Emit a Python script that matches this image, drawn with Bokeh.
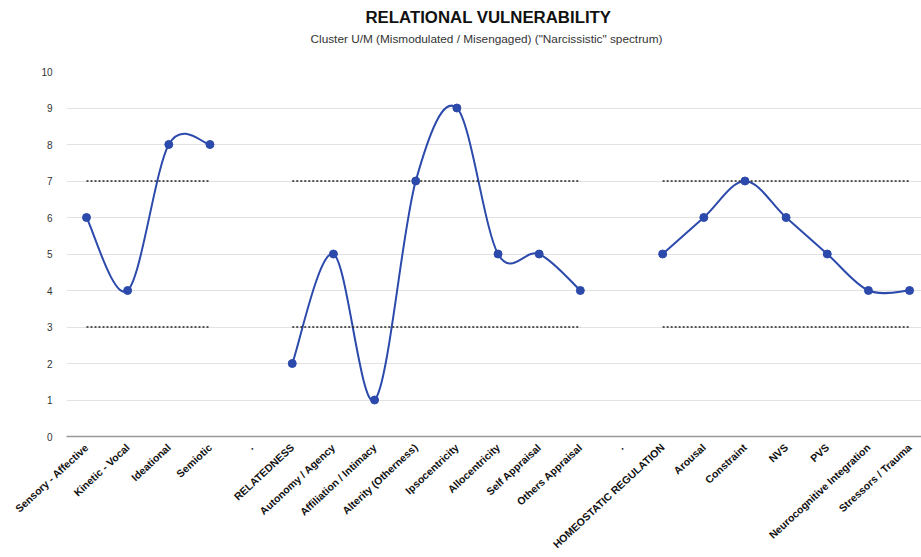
import numpy as np
from bokeh.plotting import figure
from bokeh.models import FixedTicker, Title, Range1d
from bokeh.embed import file_html
from bokeh.resources import INLINE

categories = ["Sensory - Affective", "Kinetic - Vocal", "Ideational", "Semiotic", ".",
              "RELATEDNESS", "Autonomy / Agency", "Affiliation / Intimacy", "Alterity (Otherness)",
              "Ipsocentricity", "Allocentricity", "Self Appraisal", "Others Appraisal", ".",
              "HOMEOSTATIC REGULATION", "Arousal", "Constraint", "NVS", "PVS",
              "Neurocognitive Integration", "Stressors / Trauma"]
values = [6, 4, 8, 8, None, 2, 5, 1, 7, 9, 5, 5, 4, None, 5, 6, 7, 6, 5, 4, 4]
upper_limit = [7, 7, 7, 7, None, 7, 7, 7, 7, 7, 7, 7, 7, None, 7, 7, 7, 7, 7, 7, 7]
lower_limit = [3, 3, 3, 3, None, 3, 3, 3, 3, 3, 3, 3, 3, None, 3, 3, 3, 3, 3, 3, 3]
y_ticks = [0, 1, 2, 3, 4, 5, 6, 7, 8, 9, 10]
title_text = "RELATIONAL VULNERABILITY"
subtitle_text = 'Cluster U/M (Mismodulated / Misengaged) ("Narcissistic" spectrum)'

BLUE = "#2c4aab"
FONT = "Liberation Sans"

p = figure(width=921, height=557, output_backend="svg", toolbar_location=None,
           x_range=Range1d(-0.486, 20.29), y_range=Range1d(0, 10),
           min_border_left=66, min_border_right=0, min_border_top=71, min_border_bottom=119,
           title=None)
p.outline_line_color = None
p.background_fill_color = "white"


def segments(vals):
    groups, cur = [], []
    for i, v in enumerate(vals):
        if v is None:
            if cur:
                groups.append(cur)
            cur = []
        else:
            cur.append((i, v))
    if cur:
        groups.append(cur)
    return groups


# smooth curve (Catmull-Rom style bezier segments) per group
bx0, by0, bx1, by1, cx0, cy0, cx1, cy1 = [], [], [], [], [], [], [], []
for g in segments(values):
    n = len(g)
    for k in range(n - 1):
        p0 = g[k - 1] if k > 0 else g[k]
        p1 = g[k]
        p2 = g[k + 1]
        p3 = g[k + 2] if k + 2 < n else g[k + 1]
        bx0.append(p1[0]); by0.append(p1[1])
        bx1.append(p2[0]); by1.append(p2[1])
        cx0.append(p1[0] + (p2[0] - p0[0]) / 6.0)
        cy0.append(p1[1] + (p2[1] - p0[1]) / 6.0)
        cx1.append(p2[0] - (p3[0] - p1[0]) / 6.0)
        cy1.append(p2[1] - (p3[1] - p1[1]) / 6.0)

p.bezier(x0=bx0, y0=by0, x1=bx1, y1=by1, cx0=cx0, cy0=cy0, cx1=cx1, cy1=cy1,
         line_color=BLUE, line_width=2)

# dotted limit lines
for lim in (upper_limit, lower_limit):
    for g in segments(lim):
        xs = [a for a, b in g]
        ys = [b for a, b in g]
        p.line(xs, ys, line_color="#222222", line_width=1.5, line_dash="2 2")

# points
px = [i for i, v in enumerate(values) if v is not None]
py = [v for v in values if v is not None]
p.scatter(px, py, size=8, fill_color=BLUE, line_color=BLUE)

# axes
p.xaxis.ticker = FixedTicker(ticks=list(range(len(categories))))
p.xaxis.major_label_overrides = {i: c for i, c in enumerate(categories)}
p.xaxis.major_label_orientation = np.pi / 4.2
p.xaxis.major_label_text_font = FONT
p.xaxis.major_label_text_font_style = "bold"
p.xaxis.major_label_text_font_size = "10.5px"
p.xaxis.major_label_text_color = "#111111"
p.xaxis.major_tick_line_color = None
p.xaxis.minor_tick_line_color = None
p.xaxis.axis_line_color = "#999999"
p.xaxis.axis_line_width = 1.5
p.xaxis.major_label_standoff = 3

p.yaxis.ticker = FixedTicker(ticks=y_ticks)
p.yaxis.major_label_text_font = FONT
p.yaxis.major_label_text_font_size = "10px"
p.yaxis.major_label_text_color = "#333333"
p.yaxis.major_tick_line_color = None
p.yaxis.minor_tick_line_color = None
p.yaxis.axis_line_color = None
p.yaxis.major_label_standoff = 8

p.xgrid.grid_line_color = None
p.ygrid.grid_line_color = "#e2e2e2"
p.ygrid.ticker = FixedTicker(ticks=y_ticks[1:])

# titles: a blank spacer title nearest the frame, then subtitle, then main title
spacer = Title(text=" ", align="left", text_font=FONT, text_font_size="10px", standoff=13)
sub = Title(text=subtitle_text, align="left", offset=244, text_font=FONT,
            text_font_size="11.8px", text_font_style="normal", text_color="#333333",
            standoff=0)
main = Title(text=title_text, align="left", offset=299, text_font=FONT,
             text_font_size="16.8px", text_font_style="bold", text_color="#111111",
             standoff=5)
p.add_layout(spacer, "above")
p.add_layout(sub, "above")
p.add_layout(main, "above")

open("out.html", "w").write(file_html(p, INLINE))
